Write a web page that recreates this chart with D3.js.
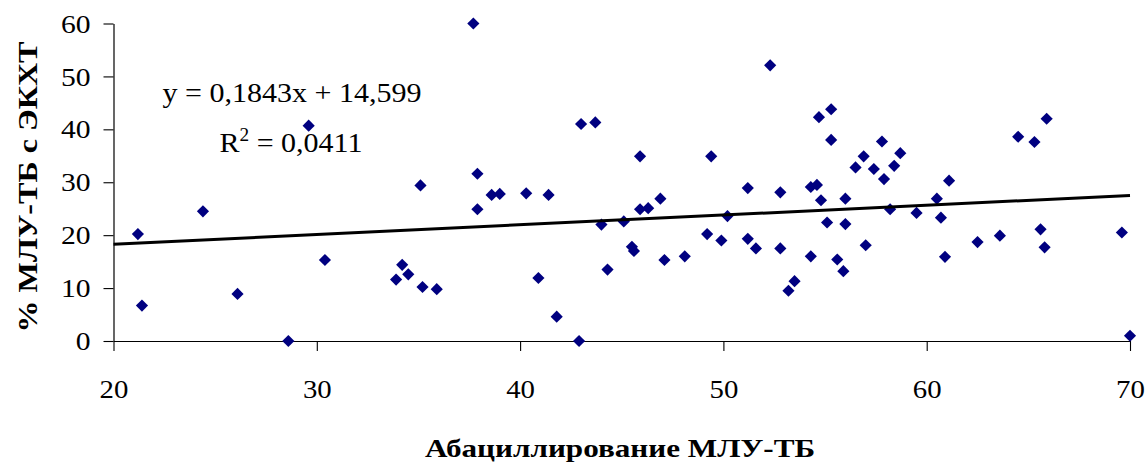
<!DOCTYPE html>
<html>
<head>
<meta charset="utf-8">
<script src="https://cdn.jsdelivr.net/npm/d3@7"></script>
<style>
  html, body { margin: 0; padding: 0; background: #fff; }
  svg { display: block; }
</style>
</head>
<body>
<svg id="chart" width="1148" height="462"></svg>
<script>
// ---- data ----
const xValues = [
  21.2, 21.4, 24.4, 26.1, 28.6, 29.6,
  30.4, 33.9, 34.2, 34.5, 35.1, 35.2, 35.9, 37.7, 37.9, 37.9, 38.6, 39.0,
  40.3, 41.4, 40.9, 41.8, 42.9, 43.0, 43.7, 44.0, 44.3, 45.1, 45.5, 45.6,
  45.9, 45.9, 46.3, 46.9, 47.1, 48.1, 49.2, 49.4, 49.9,
  50.2, 51.2, 51.2, 51.6, 52.3, 52.8, 52.8, 53.2, 53.5, 54.3, 54.6, 54.7,
  54.8, 55.1, 55.3, 55.3, 54.3, 55.6, 55.9, 56.0, 56.0, 56.5, 56.9, 57.0,
  57.4, 57.8, 57.9, 58.2, 58.4, 58.7, 59.5,
  60.5, 60.7, 60.9, 61.1, 62.5, 63.6, 64.5, 65.3, 65.6, 65.8, 65.9, 69.6, 70.0
];
const yValues = [
  20.2, 6.7, 24.5, 8.9, 0.0, 40.7,
  15.3, 11.6, 14.4, 12.6, 29.4, 10.2, 9.8, 60.0, 31.6, 24.9, 27.6, 27.8,
  27.9, 27.6, 11.9, 4.6, 0.0, 41.0, 41.3, 22.0, 13.5, 22.6, 17.8, 17.0,
  34.9, 24.9, 25.1, 26.9, 15.3, 16.0, 20.2, 34.9, 19.0,
  23.6, 28.9, 19.3, 17.5, 52.1, 28.1, 17.5, 9.5, 11.3, 29.1, 29.5, 42.3,
  26.6, 22.4, 43.8, 38.0, 16.0, 15.4, 13.2, 22.1, 26.9, 32.8, 34.9, 18.1,
  32.5, 37.7, 30.6, 24.9, 33.1, 35.5, 24.2,
  26.9, 23.3, 15.9, 30.3, 18.7, 19.9, 38.6, 37.6, 21.1, 17.7, 42.0, 20.5, 1.0
];
const xTicks = [20, 30, 40, 50, 60, 70];
const yTicks = [0, 10, 20, 30, 40, 50, 60];
const trendSlope = 0.1843;
const trendIntercept = 14.599;
const equationText = "y = 0,1843x + 14,599";
const r2Value = "0,0411";
const xTitle = "Абациллирование МЛУ-ТБ";
const yTitle = "% МЛУ-ТБ с ЭКХТ";

// ---- drawing ----
const svg = d3.select("#chart");
const FONT = "'Liberation Serif', 'Times New Roman', serif";

const x = d3.scaleLinear().domain([20, 70]).range([113.5, 1130]);
const y = d3.scaleLinear().domain([0, 60]).range([341, 23.5]);

// Y axis
const gy = svg.append("g")
  .attr("transform", `translate(${x(20)},0)`)
  .call(d3.axisLeft(y).tickValues(yTicks).tickSize(10).tickSizeOuter(0).tickPadding(13));
gy.select(".domain").attr("stroke", "#000").attr("stroke-width", 1.2);
gy.selectAll(".tick line").attr("stroke", "#000").attr("stroke-width", 1.1);
gy.selectAll(".tick text")
  .attr("font-family", FONT).attr("font-size", 26).attr("fill", "#000")
  .attr("dy", "0.33em")
  .attr("textLength", d => String(d).length * 14.8)
  .attr("lengthAdjust", "spacingAndGlyphs");

// X axis
const gx = svg.append("g")
  .attr("transform", `translate(0,${y(0)})`)
  .call(d3.axisBottom(x).tickValues(xTicks).tickSize(10).tickSizeOuter(0).tickPadding(29));
gx.select(".domain").attr("stroke", "#000").attr("stroke-width", 1.2);
gx.selectAll(".tick line").attr("stroke", "#000").attr("stroke-width", 1.1);
gx.selectAll(".tick text")
  .attr("font-family", FONT).attr("font-size", 26).attr("fill", "#000")
  .attr("textLength", d => String(d).length * 14.4)
  .attr("lengthAdjust", "spacingAndGlyphs");

// Points (diamonds)
const pts = xValues.map((v, i) => ({ x: v, y: yValues[i] }));
const diamond = d3.symbol().type(d3.symbolSquare).size(74);
svg.append("g").selectAll("path")
  .data(pts)
  .join("path")
  .attr("d", diamond)
  .attr("transform", d => `translate(${x(d.x)},${y(d.y)}) rotate(45)`)
  .attr("fill", "#000080");

// Linear trend line
const [x0, x1] = x.domain();
svg.append("line")
  .attr("x1", x(x0)).attr("y1", y(trendSlope * x0 + trendIntercept))
  .attr("x2", x(x1)).attr("y2", y(trendSlope * x1 + trendIntercept))
  .attr("stroke", "#000").attr("stroke-width", 3);

// Equation labels
svg.append("text")
  .attr("x", 292).attr("y", 101.5)
  .attr("text-anchor", "middle")
  .attr("font-family", FONT).attr("font-size", 28).attr("fill", "#000")
  .attr("textLength", 259).attr("lengthAdjust", "spacingAndGlyphs")
  .text(equationText);

const r2 = svg.append("text")
  .attr("x", 291).attr("y", 151.5)
  .attr("text-anchor", "middle")
  .attr("font-family", FONT).attr("font-size", 28).attr("fill", "#000")
  .attr("textLength", 143).attr("lengthAdjust", "spacingAndGlyphs");
r2.append("tspan").text("R");
r2.append("tspan").attr("font-size", 18).attr("dy", -11).text("2");
r2.append("tspan").attr("dy", 11).text(" = " + r2Value);

// Axis titles
svg.append("text")
  .attr("x", 620).attr("y", 456.5)
  .attr("text-anchor", "middle")
  .attr("font-family", FONT).attr("font-size", 25).attr("font-weight", "bold").attr("fill", "#000")
  .attr("textLength", 390).attr("lengthAdjust", "spacingAndGlyphs")
  .text(xTitle);

svg.append("text")
  .attr("transform", "translate(37,187) rotate(-90)")
  .attr("text-anchor", "middle")
  .attr("font-family", FONT).attr("font-size", 28).attr("font-weight", "bold").attr("fill", "#000")
  .attr("textLength", 291).attr("lengthAdjust", "spacingAndGlyphs")
  .text(yTitle);
</script>
</body>
</html>
